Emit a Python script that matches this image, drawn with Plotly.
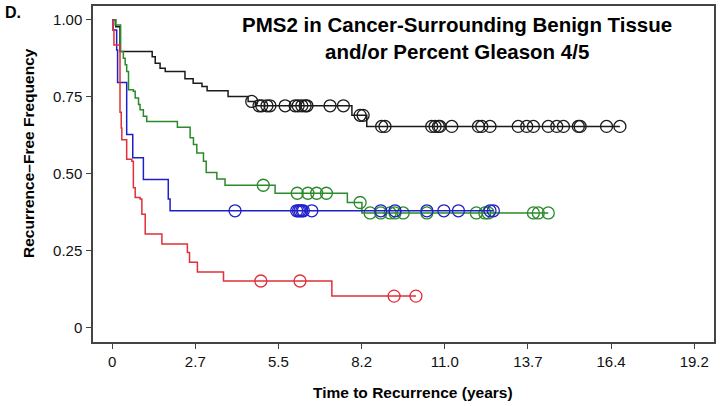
import plotly.graph_objects as go

# Kaplan-Meier steps: (time of drop, survival after drop)
black_t = [0, 0.12, 0.26, 1.32, 1.42, 1.58, 1.75, 2.40, 2.67, 2.96, 3.13, 3.82, 4.48, 4.72, 7.90, 8.39]
black_s = [1.0, 0.978, 0.897, 0.880, 0.859, 0.843, 0.832, 0.809, 0.794, 0.784, 0.770, 0.751, 0.735, 0.721, 0.690, 0.654]
black_cens = [4.60, 4.84, 4.93, 5.10, 5.20, 5.70, 6.03, 6.13, 6.25, 6.36, 6.42, 7.18, 7.62, 8.17, 8.27,
              8.88, 8.99, 10.53, 10.64, 10.75, 10.80, 11.19, 12.07, 12.18, 12.45, 13.38, 13.66, 13.88,
              14.37, 14.65, 14.87, 15.36, 15.42, 16.29, 16.73]

green_t = [0, 0.10, 0.28, 0.37, 0.43, 0.48, 0.54, 0.70, 0.76, 0.87, 0.92, 1.03, 1.14, 2.15, 2.57,
           2.68, 2.79, 3.01, 3.10, 3.45, 3.72, 5.37, 7.75, 8.23]
green_s = [1.0, 0.983, 0.897, 0.875, 0.854, 0.832, 0.773, 0.768, 0.746, 0.725, 0.708, 0.687, 0.670,
           0.651, 0.617, 0.595, 0.568, 0.541, 0.504, 0.483, 0.463, 0.437, 0.407, 0.373]
green_cens = [4.98, 6.10, 6.45, 6.74, 7.06, 8.17, 8.50, 8.85, 9.16, 9.32, 9.59, 10.37, 12.00, 12.28,
              12.39, 13.88, 14.04, 14.37]

blue_t = [0, 0.03, 0.15, 0.18, 0.48, 0.68, 1.03, 1.85, 1.91]
blue_s = [1.0, 0.967, 0.902, 0.797, 0.628, 0.552, 0.482, 0.418, 0.380]
blue_cens = [4.05, 6.08, 6.14, 6.19, 6.25, 6.30, 6.58, 8.85, 9.32, 10.37, 10.93, 11.41, 12.45, 12.56]

red_t = [0, 0.03, 0.06, 0.26, 0.30, 0.32, 0.48, 0.65, 0.70, 0.76, 0.92, 0.98, 1.09, 1.64, 2.48,
         2.55, 2.81, 3.67, 7.24]
red_s = [1.0, 0.967, 0.918, 0.700, 0.649, 0.611, 0.547, 0.541, 0.455, 0.423, 0.418, 0.369, 0.305,
         0.272, 0.245, 0.213, 0.181, 0.152, 0.103]
red_cens = [4.90, 6.19, 9.29, 10.01]

x_tick_vals = [0, 2.74, 5.48, 8.22, 10.96, 13.70, 16.44, 19.18]
x_tick_text = ['0', '2.7', '5.5', '8.2', '11.0', '13.7', '16.4', '19.2']
y_tick_vals = [0, 0.25, 0.5, 0.75, 1.0]
y_tick_text = ['0', '0.25', '0.50', '0.75', '1.00']

FONT = 'Liberation Sans, Arial, sans-serif'


def step_at(ts, ss, t):
    val = ss[0]
    for ti, si in zip(ts, ss):
        if ti <= t:
            val = si
    return val


groups = [
    ('black', black_t, black_s, black_cens, '#1a1a1a'),
    ('green', green_t, green_s, green_cens, '#2b8a2b'),
    ('blue', blue_t, blue_s, blue_cens, '#2020c8'),
    ('red', red_t, red_s, red_cens, '#e0303a'),
]

fig = go.Figure()
for name, ts, ss, cens, col in groups:
    end = max(cens)
    fig.add_trace(go.Scatter(x=ts + [end], y=ss + [ss[-1]], mode='lines', line_shape='hv',
                             line=dict(color=col, width=1.5), name=name, showlegend=False,
                             hoverinfo='skip'))
    fig.add_trace(go.Scatter(x=cens, y=[step_at(ts, ss, c) for c in cens], mode='markers',
                             marker=dict(symbol='circle-open', size=12, color=col,
                                         line=dict(color=col, width=1.3)),
                             name=name + ' censored', showlegend=False))

fig.update_xaxes(range=[-0.63, 19.83], tickvals=x_tick_vals, ticktext=x_tick_text,
                 showgrid=False, zeroline=False, showline=True, mirror=True,
                 linecolor='#444', linewidth=1.5, ticks='outside', ticklen=5, tickcolor='#444',
                 tickfont=dict(family=FONT, size=15, color='#111'))
fig.update_yaxes(range=[-0.046, 1.045], tickvals=y_tick_vals, ticktext=y_tick_text,
                 showgrid=False, zeroline=False, showline=True, mirror=True,
                 linecolor='#444', linewidth=1.5, ticks='outside', ticklen=5, tickcolor='#444',
                 ticklabelstandoff=1,
                 tickfont=dict(family=FONT, size=15, color='#111'))

fig.update_layout(
    width=722, height=406,
    margin=dict(l=93, r=8, t=4, b=64),
    plot_bgcolor='white', paper_bgcolor='white',
    font=dict(family=FONT, color='#000'),
    annotations=[
        dict(text='<b>PMS2 in Cancer-Surrounding Benign Tissue</b>', x=0.586, y=0.944,
             xref='paper', yref='paper', xanchor='center', yanchor='middle', showarrow=False,
             font=dict(size=20.5, family=FONT)),
        dict(text='<b>and/or Percent Gleason 4/5</b>', x=0.586, y=0.866,
             xref='paper', yref='paper', xanchor='center', yanchor='middle', showarrow=False,
             font=dict(size=20.5, family=FONT)),
        dict(text='<b>Time to Recurrence (years)</b>', x=0.515, y=-0.151,
             xref='paper', yref='paper', xanchor='center', yanchor='middle', showarrow=False,
             font=dict(size=15.5, family=FONT)),
        dict(text='<b>Recurrence\u2013Free Frequency</b>', x=-0.105, y=0.562, textangle=-90,
             xref='paper', yref='paper', xanchor='center', yanchor='middle', showarrow=False,
             font=dict(size=15.5, family=FONT)),
        dict(text='<b>D.</b>', x=-0.145, y=0.982,
             xref='paper', yref='paper', xanchor='left', yanchor='middle', showarrow=False,
             font=dict(size=16, family=FONT)),
    ],
)

# the page body has a default 8px margin; drop it so the figure sits at the window corner
fig.write_html("out.html", config={'displayModeBar': False},
               post_script="document.body.style.margin='0';")
